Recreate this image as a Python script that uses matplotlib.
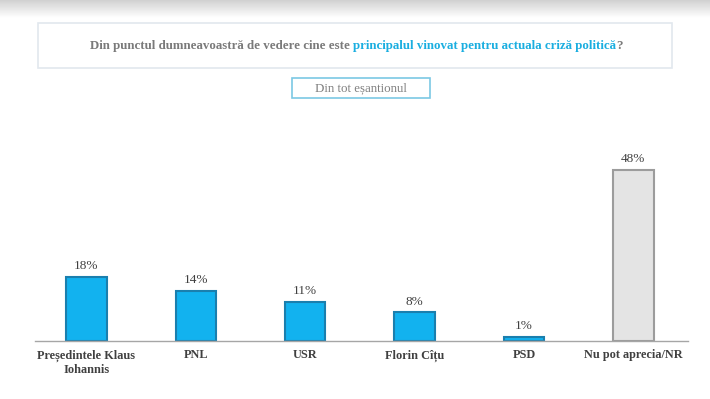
import numpy as np
import matplotlib.pyplot as plt
from matplotlib.patches import Rectangle

categories = ['Președintele Klaus\nIohannis', 'PNL', 'USR', 'Florin Cîțu', 'PSD', 'Nu pot aprecia/NR']
values = [18, 14, 11, 8, 1, 48]
bar_colors = ['#12b2ef'] * 5 + ['#e4e4e4']
edge_colors = ['#1a7fae'] * 5 + ['#9c9c9c']

title_parts = ['Din punctul dumneavoastră de vedere cine este ',
               'principalul vinovat pentru actuala criză politică', '?']
title_colors = ['#7a7a7a', '#1aaee0', '#7a7a7a']
subtitle = 'Din tot eșantionul'

plt.rcParams['font.family'] = ['Liberation Serif', 'DejaVu Serif']

fig = plt.figure(figsize=(7.1, 3.99), dpi=100)
W, H = 710, 399

# grey gradient band at the top
bg = fig.add_axes([0, 1 - 18 / H, 1, 18 / H])
grad = np.linspace(0.82, 1.0, 50).reshape(-1, 1)
bg.imshow(np.repeat(grad, 2, axis=1), cmap='gray', vmin=0, vmax=1, aspect='auto', extent=[0, 1, 1, 0])
bg.axis('off')

# title box
fig.patches.append(Rectangle((38 / W, 1 - 68 / H), (672 - 38) / W, 45 / H, transform=fig.transFigure,
                             fill=False, edgecolor='#e2e8ee', linewidth=1.2))
# subtitle box
fig.patches.append(Rectangle((292 / W, 1 - 98 / H), (430 - 292) / W, 20 / H, transform=fig.transFigure,
                             fill=False, edgecolor='#7cc8e4', linewidth=1.2))
fig.text(361 / W, 1 - 88 / H, subtitle, ha='center', va='center', fontsize=9.3, color='#808080')

# multicolour title, centred
renderer = fig.canvas.get_renderer()
texts = []
for part, col in zip(title_parts, title_colors):
    t = fig.text(0, 1 - 46 / H, part, ha='left', va='center', fontsize=9.3, fontweight='bold', color=col)
    texts.append(t)
widths = [t.get_window_extent(renderer).width for t in texts]
x = (356 - sum(widths) / 2) / W
for t, w in zip(texts, widths):
    t.set_x(x)
    x += w / W

ax = fig.add_axes([35 / W, 58 / H, (688 - 35) / W, 196 / H])
xpos = np.arange(len(categories))
ax.bar(xpos, values, width=0.37, color=bar_colors, edgecolor=edge_colors, linewidth=1.5)
for xi, v in zip(xpos, values):
    ax.text(xi, v + 1.4, f'{v}%', ha='center', va='bottom', fontsize=9.5, color='#404040')

ax.set_xlim(-0.47, 5.5)
ax.set_ylim(0, 55)
ax.set_xticks(xpos)
ax.set_xticklabels(categories, fontsize=8.8, fontweight='bold', color='#404040', linespacing=1.25)
ax.tick_params(axis='x', length=0, pad=6)
ax.set_yticks([])
for s in ['top', 'right', 'left']:
    ax.spines[s].set_visible(False)
ax.spines['bottom'].set_color('#a6a6a6')
ax.spines['bottom'].set_linewidth(1)

fig.savefig('out.png', dpi=100)
